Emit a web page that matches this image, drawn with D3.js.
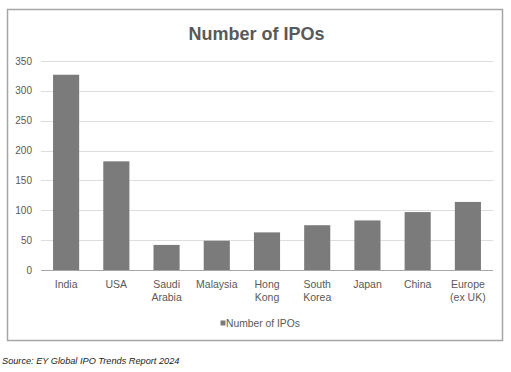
<!DOCTYPE html>
<html>
<head>
<meta charset="utf-8">
<script src="https://cdn.jsdelivr.net/npm/d3@7"></script>
<style>
  body { margin: 0; background: #fff; }
  svg { display: block; font-family: "Liberation Sans", Arial, sans-serif; }
</style>
</head>
<body>
<script>
// Data
var countries = [["India"], ["USA"], ["Saudi", "Arabia"], ["Malaysia"], ["Hong", "Kong"],
                 ["South", "Korea"], ["Japan"], ["China"], ["Europe", "(ex UK)"]];
var ipoCounts = [327, 182, 42, 49, 63, 75, 83, 97, 114];
var yTicks = [0, 50, 100, 150, 200, 250, 300, 350];

var width = 511;
var height = 372;
var svg = d3.select("body").append("svg")
            .attr("width", width)
            .attr("height", height);

// Chart frame
svg.append("rect")
   .attr("x", 7.5)
   .attr("y", 9.5)
   .attr("width", 495)
   .attr("height", 331)
   .attr("fill", "#fff")
   .attr("stroke", "#a6a6a6")
   .attr("stroke-width", 1.5);

// Scales
var plotLeft = 41;
var plotRight = 493;
var yScale = d3.scaleLinear()
               .domain([0, 350])
               .range([270, 61]);

var names = countries.map(function(d) { return d.join(" "); });
var xScale = d3.scaleBand()
               .domain(names)
               .range([plotLeft, plotRight])
               .paddingInner(0.48)
               .paddingOuter(0.24);

// Gridlines
svg.selectAll(".grid")
   .data(yTicks)
   .enter()
   .append("line")
   .attr("class", "grid")
   .attr("x1", plotLeft)
   .attr("x2", plotRight)
   .attr("y1", function(d) { return Math.round(yScale(d)) + 0.5; })
   .attr("y2", function(d) { return Math.round(yScale(d)) + 0.5; })
   .attr("stroke", function(d) { return d == 0 ? "#a6a6a6" : "#dedede"; })
   .attr("stroke-width", 1);

// Y labels
svg.selectAll(".ylabel")
   .data(yTicks)
   .enter()
   .append("text")
   .attr("class", "ylabel")
   .attr("x", 32)
   .attr("y", function(d) { return yScale(d); })
   .attr("dy", "0.35em")
   .attr("text-anchor", "end")
   .attr("font-size", "10px")
   .attr("fill", "#595959")
   .text(function(d) { return d; });

// Bars
svg.selectAll(".bar")
   .data(ipoCounts)
   .enter()
   .append("rect")
   .attr("class", "bar")
   .attr("x", function(d, i) { return xScale(names[i]); })
   .attr("y", function(d) { return yScale(d); })
   .attr("width", xScale.bandwidth())
   .attr("height", function(d) { return yScale(0) - yScale(d); })
   .attr("fill", "#7b7b7b");

// X labels
var xl = svg.selectAll(".xlabel")
            .data(countries)
            .enter()
            .append("text")
            .attr("class", "xlabel")
            .attr("text-anchor", "middle")
            .attr("font-size", "10.5px")
            .attr("fill", "#595959")
            .attr("transform", function(d, i) {
              return "translate(" + (xScale(names[i]) + xScale.bandwidth() / 2) + ", 288)";
            });

xl.selectAll("tspan")
  .data(function(d) { return d; })
  .enter()
  .append("tspan")
  .attr("x", 0)
  .attr("y", function(d, i) { return i * 13; })
  .text(function(d) { return d; });

// Title
svg.append("text")
   .attr("x", 256.5)
   .attr("y", 40)
   .attr("text-anchor", "middle")
   .attr("font-size", "18px")
   .attr("font-weight", "bold")
   .attr("fill", "#595959")
   .text("Number of IPOs");

// Legend
svg.append("rect")
   .attr("x", 220.5)
   .attr("y", 320.5)
   .attr("width", 5)
   .attr("height", 5)
   .attr("fill", "#7b7b7b");

svg.append("text")
   .attr("x", 226)
   .attr("y", 326.5)
   .attr("font-size", "10.3px")
   .attr("fill", "#595959")
   .text("Number of IPOs");

// Source note
svg.append("text")
   .attr("x", 2)
   .attr("y", 364)
   .attr("font-size", "9.2px")
   .attr("font-style", "italic")
   .attr("fill", "#222")
   .text("Source: EY Global IPO Trends Report 2024");
</script>
</body>
</html>
